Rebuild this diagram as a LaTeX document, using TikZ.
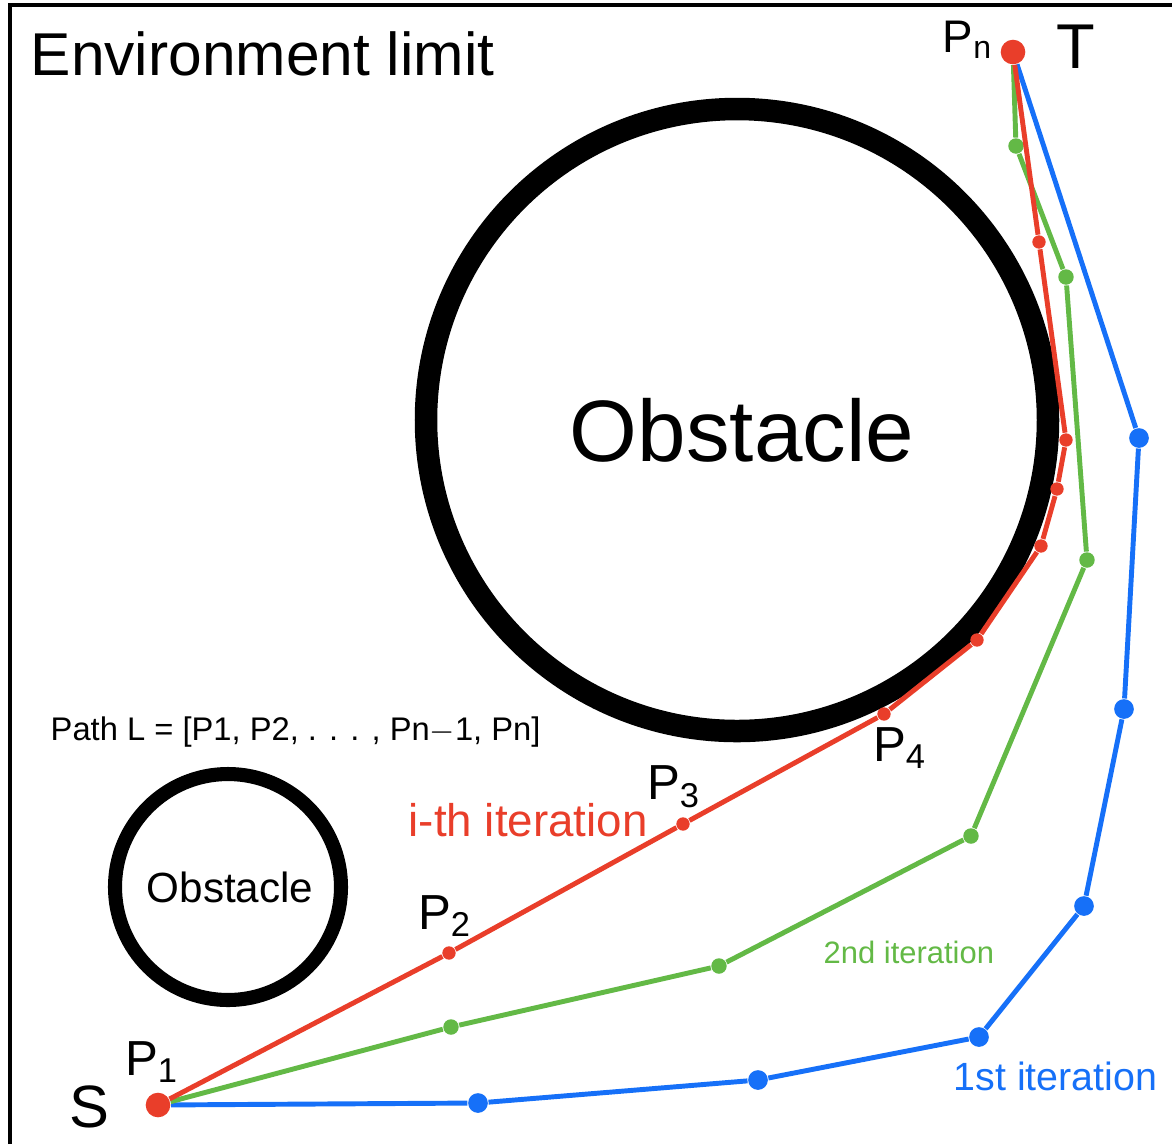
\documentclass[tikz,border=0pt]{standalone}
\usepackage{fontspec}
\setmainfont{Liberation Sans}
\definecolor{itred}{RGB}{233,62,42}
\definecolor{itgreen}{RGB}{99,185,70}
\definecolor{itblue}{RGB}{22,112,248}
\newcommand{\fsz}[1]{\fontsize{#1}{#1}\selectfont}
\begin{document}
\begin{tikzpicture}[x=0.01cm,y=-0.01cm,
    dot/.style={circle,inner sep=0pt,minimum size=#1},
    rdot/.style={dot=3.8pt,fill=itred},
    gdot/.style={dot=4.4pt,fill=itgreen},
    bdot/.style={dot=5.6pt,fill=itblue},
    tipdot/.style={dot=7pt,fill=itred},
    track/.style={line width=1.4pt,line join=round},
    txt/.style={anchor=base west,inner sep=0pt},
    hand/.style={font=\fsz{14}}]
    \useasboundingbox (0,0) rectangle (1172,1144);
    % environment limit
    \draw [line width=1.4pt] (10,1144) -- (10,5) -- (1172,5);
    \node [txt,font=\fsz{17.2}] (envlabel) at (30,75) {Environment limit};
    % obstacles
    \draw [line width=6.4pt] (737,420) circle (311);
    \node [font=\fsz{24.8}] (bigobs) at (742,430) {Obstacle};
    \draw [line width=4pt] (228,887) circle (113);
    \node [font=\fsz{12}] (smallobs) at (230,887) {Obstacle};
    \node [txt,font=\fsz{9.3}] (pathdef) at (50,740) {Path L = [P1, P2, . . . , Pn$-$1, Pn]};
    % start and target
    \node [tipdot] (S) at (158,1105) {};
    \node [tipdot] (T) at (1013,52) {};
    \node [txt,font=\fsz{17}] (slabel) at (69,1127) {S};
    \node [txt,font=\fsz{18}] (tlabel) at (1056,68) {T};
    % 1st iteration
    \node [bdot] (b1) at (478,1103) {};
    \node [bdot] (b2) at (758,1080) {};
    \node [bdot] (b3) at (979,1037) {};
    \node [bdot] (b4) at (1084,906) {};
    \node [bdot] (b5) at (1124,709) {};
    \node [bdot] (b6) at (1139,438) {};
    \draw [track,itblue] (S) -- (b1) -- (b2) -- (b3) -- (b4) -- (b5) -- (b6) -- (T);
    \node [txt,font=\fsz{11.2},text=itblue] (blabel) at (953,1090) {1st iteration};
    % 2nd iteration
    \node [gdot] (g1) at (451,1027) {};
    \node [gdot] (g2) at (719,966) {};
    \node [gdot] (g3) at (971,836) {};
    \node [gdot] (g4) at (1087,560) {};
    \node [gdot] (g5) at (1066,277) {};
    \node [gdot] (g6) at (1016,146) {};
    \draw [track,itgreen] (S) -- (g1) -- (g2) -- (g3) -- (g4) -- (g5) -- (g6) -- (T);
    \node [txt,font=\fsz{8.8},text=itgreen] (glabel) at (823,963) {2nd iteration};
    % i-th iteration
    \node [rdot] (r2) at (449,953) {};
    \node [rdot] (r3) at (683,824) {};
    \node [rdot] (r4) at (884,714) {};
    \node [rdot] (r5) at (977,640) {};
    \node [rdot] (r6) at (1041,546) {};
    \node [rdot] (r7) at (1057,489) {};
    \node [rdot] (r8) at (1066,440) {};
    \node [rdot] (r9) at (1039,242) {};
    \draw [track,itred] (S) -- (r2) -- (r3) -- (r4) -- (r5) -- (r6) -- (r7) -- (r8) -- (r9) -- (T);
    \node [txt,font=\fsz{13},text=itred] (rlabel) at (408,836) {i-th iteration};
    % point names
    \node [hand] (p1) at (152,1062) {P\textsubscript{1}};
    \node [hand] (p2) at (445,916) {P\textsubscript{2}};
    \node [hand] (p3) at (674,787) {P\textsubscript{3}};
    \node [hand] (p4) at (900,748) {P\textsubscript{4}};
    \node [hand,font=\fsz{13}] (pn) at (968,40) {P\textsubscript{n}};
\end{tikzpicture}
\end{document}
